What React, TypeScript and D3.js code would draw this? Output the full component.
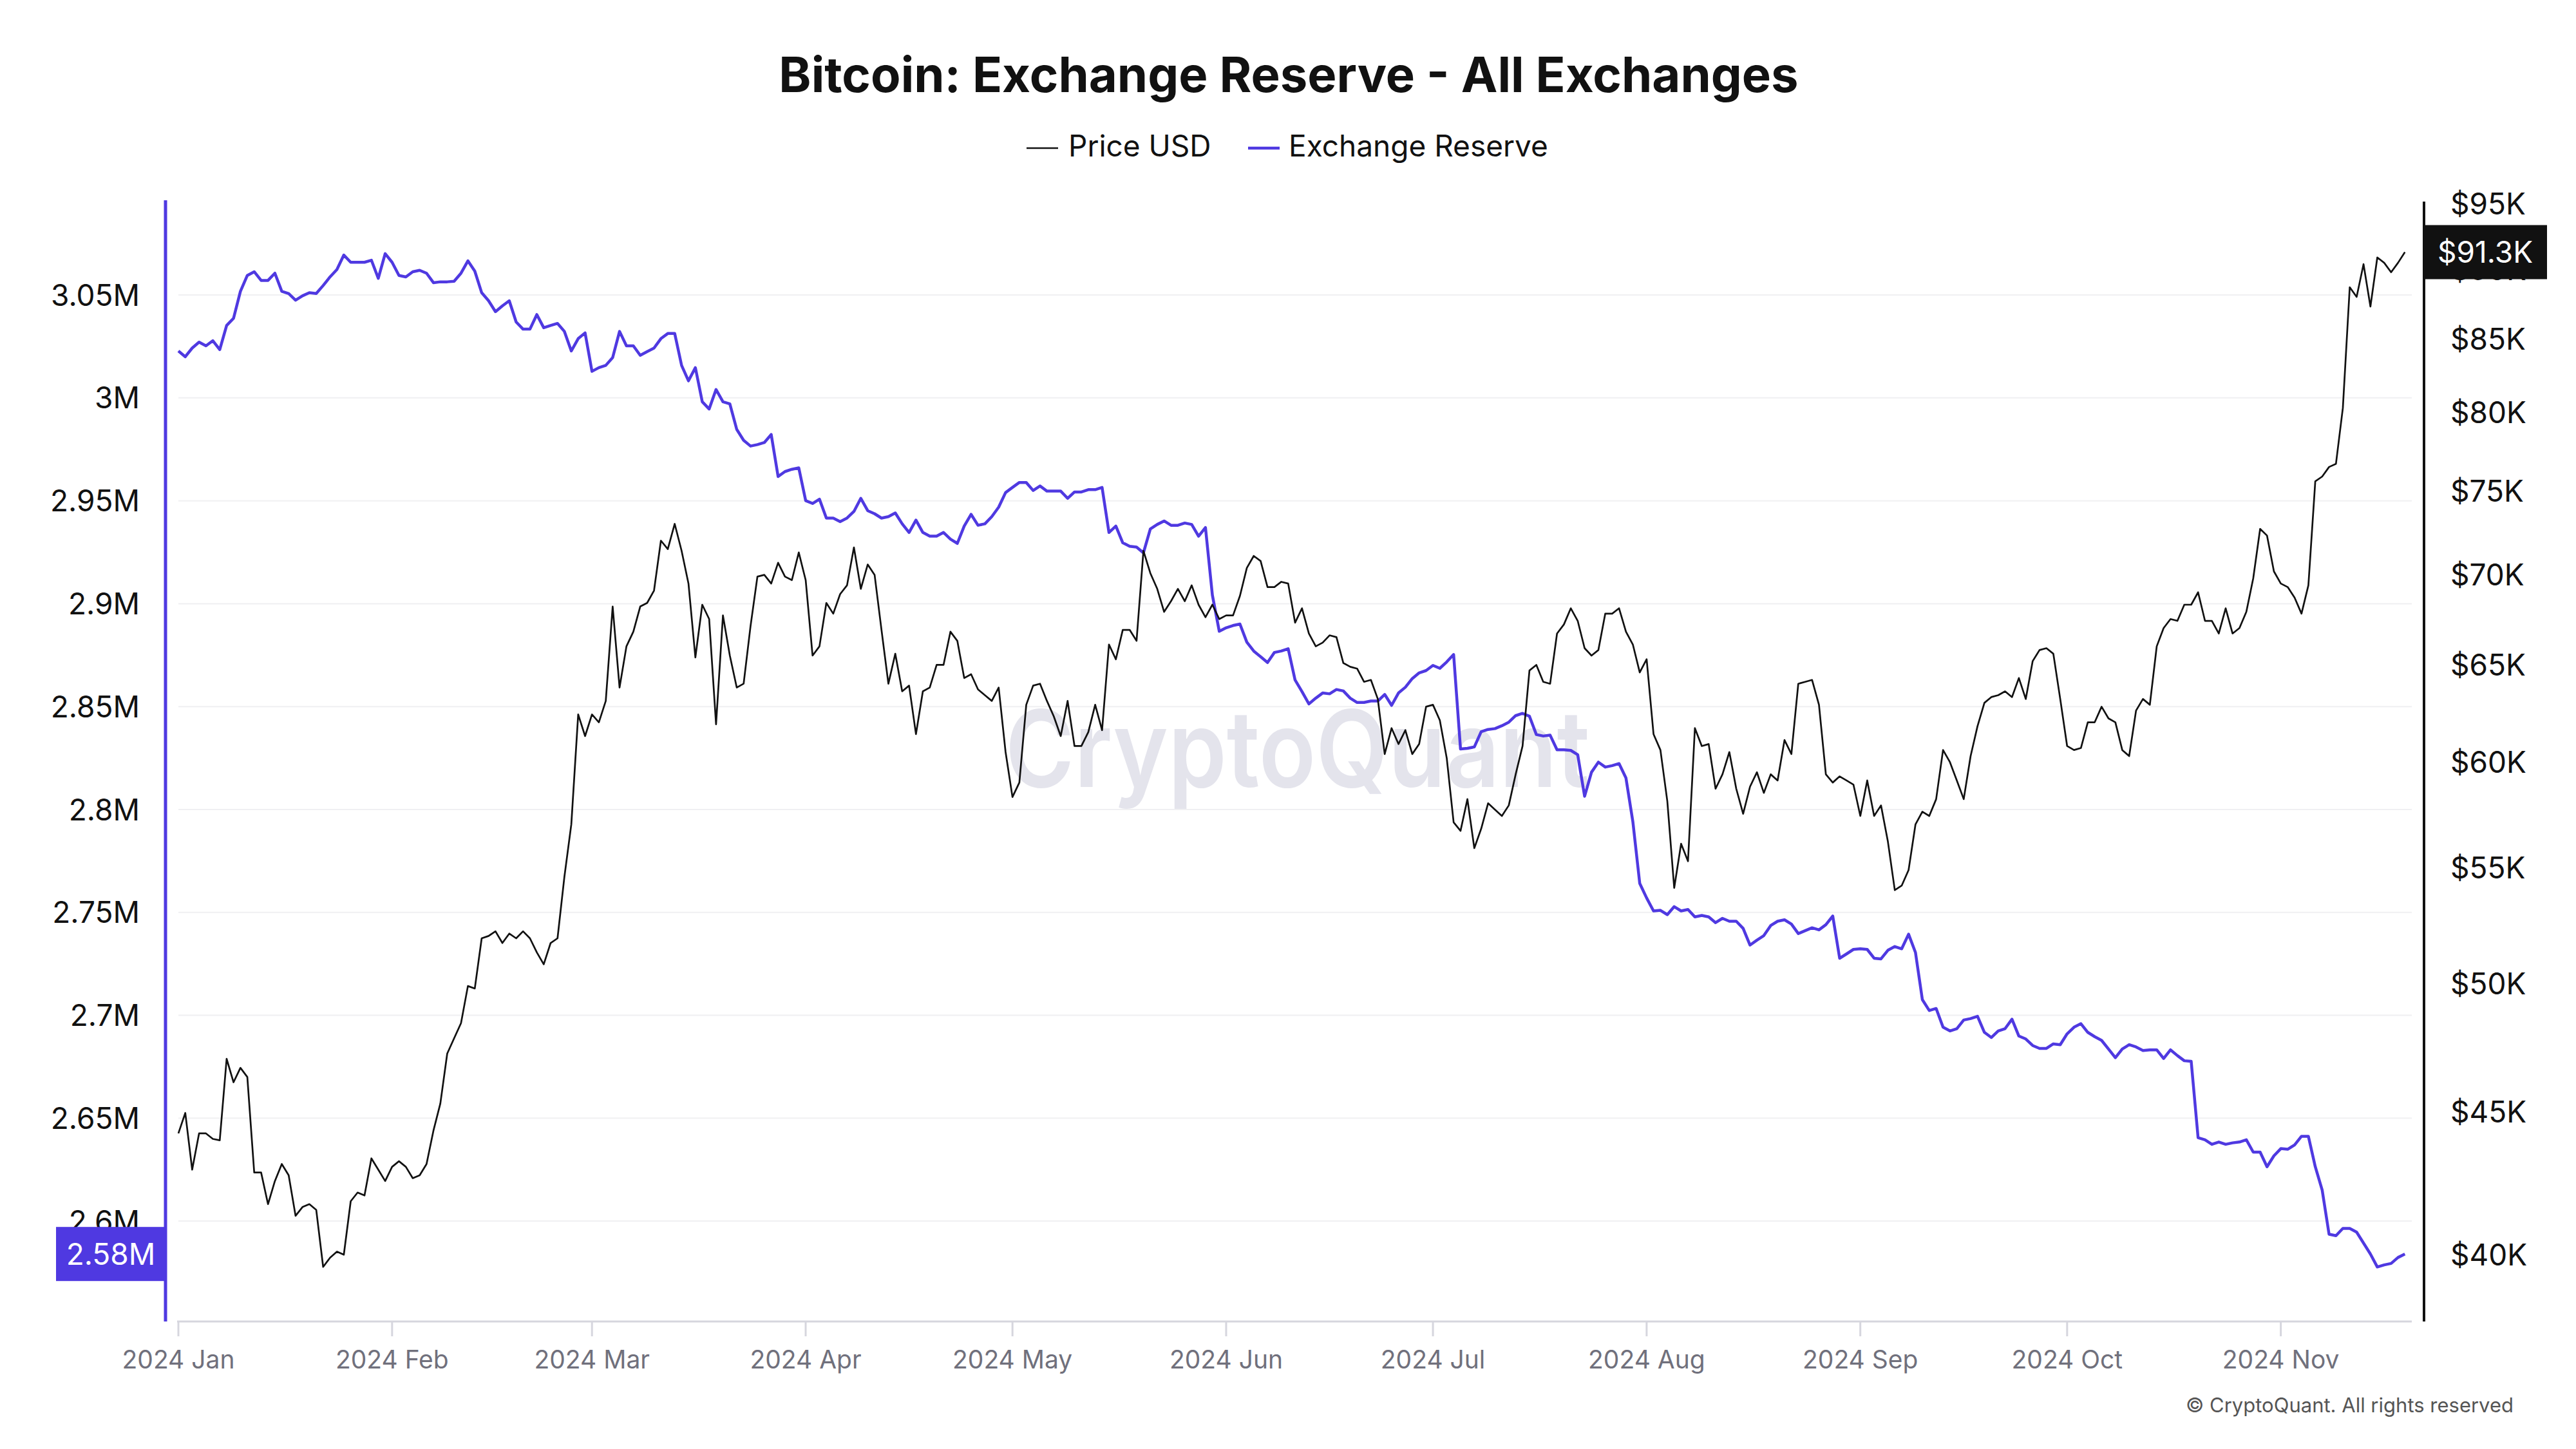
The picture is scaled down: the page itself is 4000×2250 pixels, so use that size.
import React from 'react';
import * as d3 from 'd3';

// Daily BTC close, thousands of USD (2024-01-01 .. 2024-11-19)
const priceK = [
  44.2, 44.95, 42.9, 44.2, 44.2, 44.0, 43.95, 47.0, 46.1, 46.65, 46.3, 42.8, 42.8, 41.7, 42.5, 43.1,
  42.7, 41.3, 41.6, 41.7, 41.5, 39.6, 39.9, 40.1, 40.0, 41.8, 42.1, 42.0, 43.3, 42.9, 42.5,
  43.0, 43.2, 43.0, 42.6, 42.7, 43.1, 44.3, 45.3, 47.2, 47.8, 48.4, 49.9, 49.8, 51.9, 52.0,
  52.2, 51.7, 52.1, 51.9, 52.2, 51.9, 51.3, 50.8, 51.7, 51.9, 54.6, 57.0, 62.4, 61.3,
  62.4, 62.0, 63.1, 68.2, 63.8, 66.0, 66.8, 68.2, 68.4, 69.1, 72.0, 71.5, 73.0, 71.4, 69.5,
  65.4, 68.3, 67.5, 61.9, 67.7, 65.5, 63.8, 64.0, 67.1, 69.9, 70.0, 69.5, 70.7, 69.9, 69.7, 71.3,
  69.7, 65.5, 66.0, 68.4, 67.8, 68.9, 69.4, 71.6, 69.2, 70.6, 70.0, 66.9, 64.0, 65.6, 63.6,
  63.9, 61.4, 63.6, 63.8, 65.0, 65.0, 66.8, 66.3, 64.3, 64.5, 63.7, 63.4, 63.1, 63.8, 60.5,
  58.3, 59.0, 62.9, 63.9, 64.0, 63.1, 62.3, 61.3, 63.1, 60.8, 60.8, 61.5, 62.9, 61.6, 66.1,
  65.3, 66.9, 66.9, 66.3, 71.4, 70.1, 69.2, 67.9, 68.5, 69.2, 68.5, 69.4, 68.3, 67.6, 68.3, 67.5,
  67.7, 67.7, 68.8, 70.4, 71.1, 70.8, 69.3, 69.3, 69.6, 69.5, 67.3, 68.1, 66.7, 66.0, 66.2,
  66.6, 66.5, 65.1, 64.9, 64.8, 64.1, 64.2, 63.2, 60.4, 61.7, 60.9, 61.6, 60.4, 60.9,
  62.8, 62.9, 62.1, 60.2, 57.1, 56.7, 58.2, 55.9, 56.8, 58.0, 57.7, 57.4, 57.9, 59.4, 60.8,
  64.7, 65.0, 64.1, 64.0, 66.7, 67.2, 68.1, 67.4, 65.9, 65.5, 65.8, 67.8, 67.8, 68.1, 66.8, 66.1, 64.6,
  65.3, 61.4, 60.6, 58.1, 54.1, 56.1, 55.3, 61.7, 60.8, 60.9, 58.7, 59.4, 60.5, 58.7, 57.5,
  58.8, 59.5, 58.5, 59.4, 59.1, 61.1, 60.4, 64.0, 64.1, 64.2, 62.9, 59.4, 59.0, 59.3, 59.1, 58.9,
  57.4, 59.1, 57.4, 57.9, 56.2, 54.0, 54.2, 54.9, 57.0, 57.6, 57.4, 58.2, 60.6, 60.0, 59.1,
  58.2, 60.3, 61.8, 63.0, 63.3, 63.4, 63.6, 63.3, 64.3, 63.2, 65.2, 65.8, 65.9, 65.6, 63.2,
  60.8, 60.6, 60.7, 62.0, 62.0, 62.8, 62.2, 62.0, 60.6, 60.3, 62.6, 63.2, 62.9, 66.0, 67.0,
  67.5, 67.4, 68.3, 68.3, 69.0, 67.4, 67.4, 66.7, 68.1, 66.7, 67.0, 67.9, 69.8, 72.7, 72.3, 70.2,
  69.5, 69.3, 68.7, 67.8, 69.4, 75.6, 75.9, 76.5, 76.7, 80.3, 88.7, 88.0, 90.4, 87.3, 90.9,
  90.5, 89.8, 90.5, 91.3,
];

// Exchange reserve, millions of BTC (same days)
const reserveM = [
  3.0228, 3.02, 3.0242, 3.0271, 3.0253, 3.0278, 3.0235, 3.0352, 3.0387, 3.0518, 3.0595, 3.0613,
  3.0571, 3.0571, 3.0606, 3.0518, 3.0507, 3.0475, 3.0496, 3.0511, 3.0507, 3.0546, 3.0588, 3.0624,
  3.0694, 3.0659, 3.0659, 3.0659, 3.0669, 3.0581, 3.0701,
  3.0659, 3.0595, 3.0588, 3.0613, 3.062, 3.0606, 3.056, 3.0564, 3.0564, 3.0567, 3.0606, 3.0666,
  3.0616, 3.0511, 3.0472, 3.0419, 3.0447, 3.0472, 3.0369, 3.0334, 3.0334, 3.0405, 3.0341, 3.0352,
  3.0362, 3.0323, 3.0228, 3.0288, 3.0316,
  3.0129, 3.0147, 3.0158, 3.0196, 3.0323, 3.0253, 3.0253, 3.0207, 3.0225, 3.0242, 3.0288, 3.0313,
  3.0313, 3.0158, 3.0083, 3.0147, 2.9981, 2.9946, 3.0041, 2.9981, 2.9971, 2.9847, 2.9794, 2.9766,
  2.9773, 2.9783, 2.9822, 2.9618, 2.9642, 2.9653, 2.966,
  2.9501, 2.9487, 2.9508, 2.9416, 2.9416, 2.9399, 2.9416, 2.9448, 2.9512, 2.9452, 2.9437, 2.9416,
  2.9423, 2.9441, 2.9388, 2.9346, 2.9406, 2.9346, 2.9328, 2.9328, 2.9346, 2.9314, 2.9293, 2.9377,
  2.9434, 2.9381, 2.9388, 2.9423, 2.9469, 2.954,
  2.9565, 2.9589, 2.9589, 2.955, 2.9572, 2.9547, 2.9547, 2.9547, 2.9512, 2.9543, 2.9543, 2.9554,
  2.9554, 2.9565, 2.9346, 2.9377, 2.9296, 2.9279, 2.9275, 2.9247, 2.9363, 2.9385, 2.9402, 2.9381,
  2.9381, 2.9392, 2.9385, 2.9328, 2.937, 2.9042, 2.8866,
  2.8883, 2.8894, 2.8901, 2.8813, 2.877, 2.8742, 2.8714, 2.8763, 2.877, 2.8781, 2.8629, 2.8573,
  2.8513, 2.8541, 2.8566, 2.8562, 2.8583, 2.8576, 2.8541, 2.852, 2.852, 2.8527, 2.8527, 2.8559,
  2.8506, 2.8566, 2.8594, 2.8636, 2.8664, 2.8675,
  2.87, 2.8686, 2.8717, 2.8753, 2.8294, 2.8297, 2.8304, 2.8378, 2.8389, 2.8393, 2.8407, 2.8424,
  2.8456, 2.8467, 2.8453, 2.8364, 2.8357, 2.8361, 2.829, 2.829, 2.8287, 2.8266, 2.8064, 2.8181,
  2.823, 2.8206, 2.8213, 2.8223, 2.8153, 2.7941, 2.7641,
  2.757, 2.7507, 2.751, 2.7489, 2.7528, 2.7507, 2.7514, 2.7478, 2.7485, 2.7478, 2.745, 2.7471,
  2.7457, 2.7457, 2.7422, 2.7341, 2.7365, 2.7387, 2.7436, 2.7457, 2.7464, 2.7443, 2.7397, 2.7411,
  2.7425, 2.7415, 2.744, 2.7482, 2.7277, 2.7298, 2.732,
  2.7323, 2.732, 2.7277, 2.7274, 2.7316, 2.7334, 2.7323, 2.7394, 2.7305, 2.7076, 2.7023, 2.7033,
  2.6942, 2.6924, 2.6935, 2.6977, 2.6984, 2.6995, 2.6917, 2.6892, 2.6924, 2.6935, 2.6981, 2.6899,
  2.6885, 2.6853, 2.6839, 2.6839, 2.6861, 2.6857,
  2.691, 2.6942, 2.6959, 2.6917, 2.6896, 2.6878, 2.6836, 2.6794, 2.6836, 2.6857, 2.6846, 2.6829,
  2.6832, 2.6832, 2.679, 2.6832, 2.6804, 2.6779, 2.6776, 2.6405, 2.6395, 2.6373, 2.6384, 2.6373,
  2.638, 2.6384, 2.6395, 2.6335, 2.6335, 2.6264, 2.6317,
  2.6352, 2.6349, 2.637, 2.6412, 2.6412, 2.6264, 2.6151, 2.5936, 2.5929, 2.5964, 2.5964, 2.5946,
  2.5893, 2.584, 2.5777, 2.5787, 2.5794, 2.5823, 2.584,
];

const monthLabels = [
  '2024 Jan', '2024 Feb', '2024 Mar', '2024 Apr', '2024 May', '2024 Jun',
  '2024 Jul', '2024 Aug', '2024 Sep', '2024 Oct', '2024 Nov',
];
const reserveTicks = [2.6, 2.65, 2.7, 2.75, 2.8, 2.85, 2.9, 2.95, 3.0, 3.05];
const priceTicks = [40, 45, 50, 55, 60, 65, 70, 75, 80, 85, 90, 95];

const BLUE = '#4f39e1';
const INK = '#111111';
const FONT = 'Inter, "Noto Sans", sans-serif';

export default function App() {
  const width = 4000;
  const height = 2250;
  const m = { left: 277, right: 3745, top: 313, bottom: 2052 };

  const start = new Date(Date.UTC(2024, 0, 1));
  const end = new Date(Date.UTC(2024, 10, 20));
  const dates = d3.utcDay.range(start, end).slice(0, priceK.length);
  const months = d3.utcMonth.range(start, end);

  const x = d3.scaleUtc().domain([start, end]).range([m.left, m.right]);
  const yRes = d3.scaleLinear().domain([2.5512, 3.0954]).range([m.bottom, m.top]);
  const yPrice = d3.scaleLog().domain([37.86, 95.18]).range([m.bottom, m.top]);

  const priceLine = d3.line<number>()
    .x((_, i) => x(dates[i]))
    .y(d => yPrice(d));
  const reserveLine = d3.line<number>()
    .x((_, i) => x(dates[i]))
    .y(d => yRes(d));

  const fmtRes = (v: number) => d3.format('~g')(v) + 'M';
  const lastRes = reserveM[reserveM.length - 1];
  const lastPrice = priceK[priceK.length - 1];
  const leftAxisX = 257;
  const rightAxisX = 3764;

  return (
    <div style={{ position: 'absolute', left: 0, top: 0 }}>
      <svg width={width} height={height} style={{ display: 'block', background: '#fff' }}>
        <rect width={width} height={height} fill="#fff" />

        {/* title + legend */}
        <text x={2001} y={143} textAnchor="middle" fontFamily={FONT} fontWeight={700}
          fontSize={76} fill={INK}>Bitcoin: Exchange Reserve - All Exchanges</text>
        <line x1={1594} x2={1643} y1={230} y2={230} stroke={INK} strokeWidth={2.7} />
        <text x={1659} y={243} fontFamily={FONT} fontSize={46} fill={INK}>Price USD</text>
        <line x1={1938} x2={1987} y1={230} y2={230} stroke={BLUE} strokeWidth={4.5} />
        <text x={2001} y={243} fontFamily={FONT} fontSize={46} fill={INK}>Exchange Reserve</text>

        {/* gridlines */}
        {reserveTicks.map(t => (
          <line key={t} x1={m.left} x2={m.right} y1={yRes(t)} y2={yRes(t)}
            stroke="#f0f0f2" strokeWidth={2} />
        ))}

        {/* watermark */}
        <text x={2015} y={1222} textAnchor="middle" fontFamily={FONT} fontWeight={600}
          fontSize={165} fill="#e4e4ec" textLength={908} lengthAdjust="spacingAndGlyphs">CryptoQuant</text>

        {/* x axis */}
        <line x1={m.left - 2} x2={m.right} y1={m.bottom} y2={m.bottom} stroke="#d6d6de" strokeWidth={3} />
        {months.map((d, i) => (
          <g key={i} transform={`translate(${x(d)},0)`}>
            <line y1={m.bottom} y2={m.bottom + 23} stroke="#d6d6de" strokeWidth={3} />
            <text y={2125} textAnchor="middle" fontFamily={FONT} fontSize={39} fill="#70707c">
              {monthLabels[i]}
            </text>
          </g>
        ))}

        {/* left axis */}
        <line x1={leftAxisX} x2={leftAxisX} y1={311} y2={m.bottom} stroke={BLUE} strokeWidth={5} />
        {reserveTicks.map(t => (
          <text key={t} x={217} y={yRes(t)} dy="0.36em" textAnchor="end" fontFamily={FONT}
            fontSize={46} fill={INK}>{fmtRes(t)}</text>
        ))}

        {/* right axis */}
        <line x1={rightAxisX} x2={rightAxisX} y1={313} y2={m.bottom} stroke={INK} strokeWidth={4} />
        {priceTicks.map(t => (
          <text key={t} x={3805} y={yPrice(t)} dy="0.36em" fontFamily={FONT}
            fontSize={46} fill={INK}>${t}K</text>
        ))}

        {/* series */}
        <path d={reserveLine(reserveM) || ''} fill="none" stroke={BLUE} strokeWidth={4.5}
          strokeLinejoin="round" />
        <path d={priceLine(priceK) || ''} fill="none" stroke={INK} strokeWidth={2.7}
          strokeLinejoin="round" />

        {/* last value badges */}
        <g transform={`translate(0,${yRes(lastRes)})`}>
          <rect x={87} y={-42} width={leftAxisX - 87} height={84} fill={BLUE} />
          <text x={172} dy="0.36em" textAnchor="middle" fontFamily={FONT} fontSize={46}
            fill="#fff">{d3.format('.2f')(lastRes)}M</text>
        </g>
        <g transform={`translate(0,${yPrice(lastPrice)})`}>
          <rect x={rightAxisX - 1} y={-42} width={192} height={84} fill={INK} />
          <text x={rightAxisX + 95} dy="0.36em" textAnchor="middle" fontFamily={FONT} fontSize={46}
            fill="#fff">${d3.format('.1f')(lastPrice)}K</text>
        </g>

        <text x={3903} y={2193} textAnchor="end" fontFamily={FONT} fontSize={31} fill="#555">
          © CryptoQuant. All rights reserved
        </text>
      </svg>
    </div>
  );
}
